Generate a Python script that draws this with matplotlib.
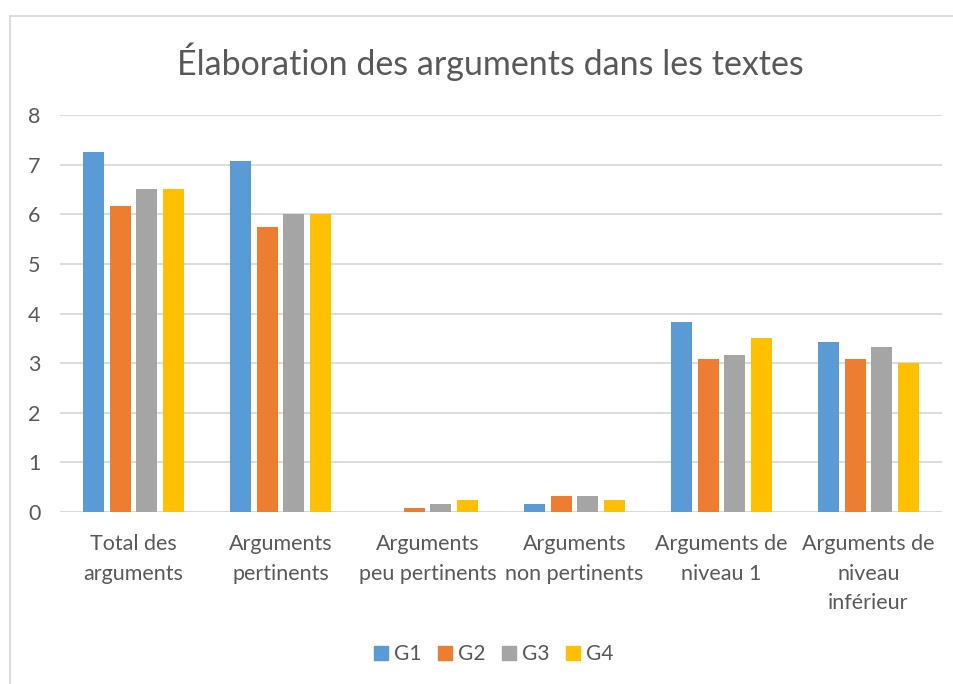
import matplotlib
matplotlib.use("Agg")
import matplotlib.pyplot as plt
import numpy as np
from matplotlib.lines import Line2D

categories = ["Total des\narguments", "Arguments\npertinents", "Arguments\npeu pertinents",
              "Arguments\nnon pertinents", "Arguments de\nniveau 1", "Arguments de\nniveau\ninférieur"]
series_names = ["G1", "G2", "G3", "G4"]
g1 = [7.25, 7.08, 0.0, 0.17, 3.83, 3.42]
g2 = [6.17, 5.75, 0.08, 0.33, 3.08, 3.08]
g3 = [6.5, 6.0, 0.17, 0.33, 3.17, 3.33]
g4 = [6.5, 6.0, 0.25, 0.25, 3.5, 3.0]
colors = ["#5B9BD5", "#ED7D31", "#A5A5A5", "#FFC000"]
yticks = [0, 1, 2, 3, 4, 5, 6, 7, 8]

plt.rcParams['font.family'] = ['Lato', 'DejaVu Sans']

W, H = 954, 684
fig = plt.figure(figsize=(W / 100, H / 100), dpi=100)
ax = fig.add_axes([60 / W, 1 - 512 / H, (942 - 60) / W, (512 - 115) / H])

x = np.arange(len(categories))
bw = 0.142
step = 0.18
for i, (vals, c, name) in enumerate(zip([g1, g2, g3, g4], colors, series_names)):
    ax.bar(x + (i - 1.5) * step, vals, width=bw, color=c, label=name, zorder=3)

ax.set_xlim(-0.5, len(categories) - 0.5)
ax.set_ylim(0, 8)
ax.set_yticks(yticks)
ax.set_yticklabels([str(t) for t in yticks], fontsize=15.5, color="#595959")
ax.set_xticks(x)
ax.set_xticklabels(categories, fontsize=15.5, color="#595959", linespacing=1.6)
ax.tick_params(axis='both', length=0)
ax.tick_params(axis='y', pad=14)
ax.tick_params(axis='x', pad=16)
ax.grid(axis='y', color="#D9D9D9", linewidth=1.3, zorder=0)
for s in ax.spines.values():
    s.set_visible(False)
ax.axhline(0, color="#D9D9D9", linewidth=1.3, zorder=2)

fig.text(490 / W, 1 - 62 / H, "Élaboration des arguments dans les textes",
         ha='center', va='center', fontsize=24.5, color="#595959")

handles = [plt.Rectangle((0, 0), 1, 1, color=c) for c in colors]
fig.legend(handles, series_names, loc='center', bbox_to_anchor=(494 / W, 1 - 654 / H),
           ncol=4, frameon=False, fontsize=15, handlelength=0.65, handleheight=0.65,
           handletextpad=0.3, columnspacing=0.8, labelcolor="#595959")

fig.add_artist(Line2D([10 / W, 1], [1 - 16 / H, 1 - 16 / H], transform=fig.transFigure,
                      color="#D9D9D9", linewidth=1.3))
fig.add_artist(Line2D([10 / W, 10 / W], [1 - 16 / H, 0], transform=fig.transFigure,
                      color="#D9D9D9", linewidth=1.3))

fig.savefig("out.png", dpi=100)
